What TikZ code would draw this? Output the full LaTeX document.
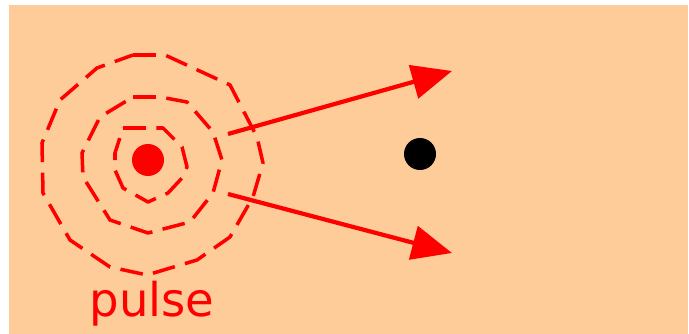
\documentclass[tikz,border=0pt]{standalone}
\usepackage{fontspec}
\setsansfont{DejaVu Sans}
\usetikzlibrary{positioning,calc,arrows.meta}

\definecolor{peach}{HTML}{FECC99}

\begin{document}
\begin{tikzpicture}[
    x=0.02cm, y=-0.02cm,
    wave/.style={red, line width=2pt, dash pattern=on 13pt off 6pt, line join=round},
    ray/.style={red, line width=2.4pt, -{Triangle[length=40*0.02cm, width=34*0.02cm]}},
    dotnode/.style={circle, inner sep=0pt, minimum size=32*0.02cm}
]

% background
\useasboundingbox (0,0) rectangle (689,334);
\fill[peach] (9,5) rectangle (688,334);

% source and observer
\node[dotnode, fill=red] (src) at (148,160) {};
\node[dotnode, fill=black] (obs) at (420,154) {};
\node[red, font=\sffamily\fontsize{26.5}{30}\selectfont] (lbl) at (152,304) {pulse};

% wave fronts
\draw[wave] (123,128) -- (163,128) -- (182,147) -- (187,167) -- (183,177)
  -- (168,193) -- (148,202) -- (123,188) -- (115,170) -- (115,153) -- cycle;
\draw[wave] (133,97) -- (160,97) -- (187,102) -- (213,132) -- (222,160)
  -- (213,193) -- (190,222) -- (148,233) -- (110,220) -- (83,177)
  -- (82,153) -- (100,117) -- cycle;
\draw[wave] (133,55) -- (165,55) -- (230,85) -- (257,137) -- (263,163)
  -- (253,197) -- (230,237) -- (197,260) -- (147,275) -- (110,267)
  -- (70,240) -- (43,193) -- (42,143) -- (60,100) -- (97,68) -- cycle;

% rays
\coordinate (r1) at (228,134);
\coordinate (r2) at (228,194);
\coordinate (t1) at (452,71);
\coordinate (t2) at (452,253);
\draw[ray] (r1) -- (t1);
\draw[ray] (r2) -- (t2);

\end{tikzpicture}
\end{document}
